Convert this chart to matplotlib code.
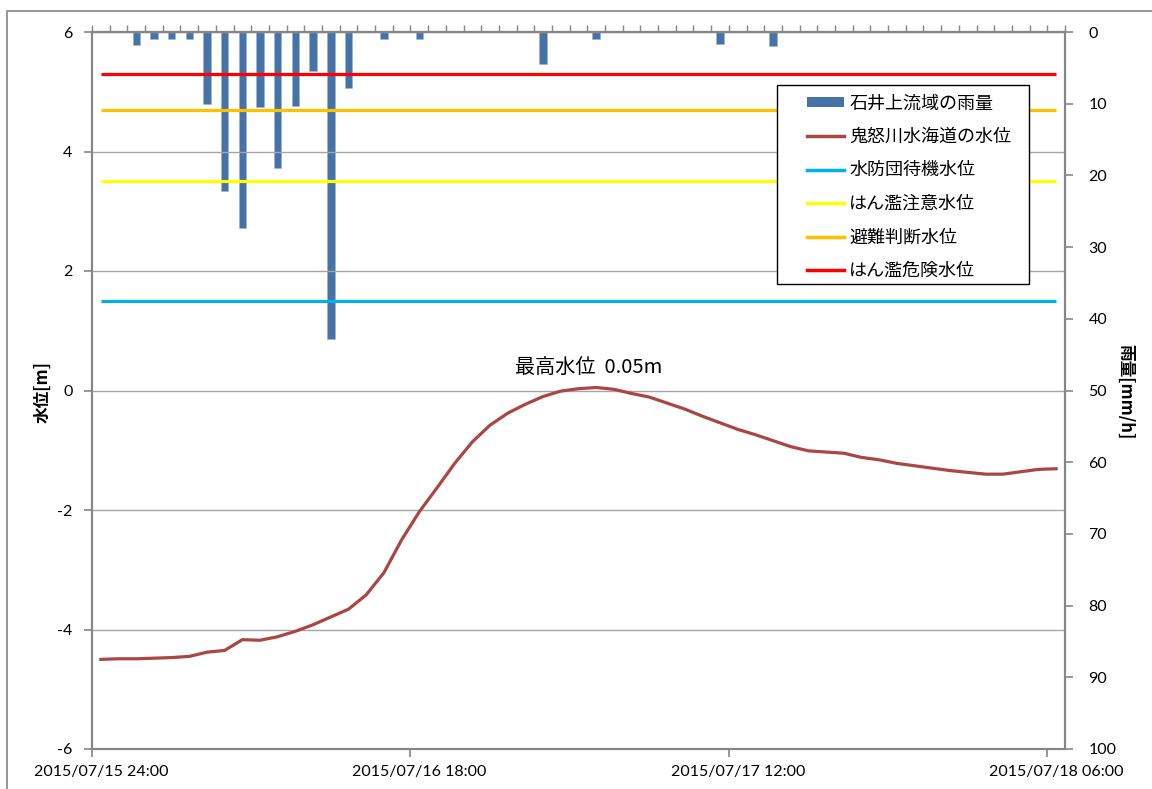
import numpy as np
import matplotlib.pyplot as plt
from matplotlib.patches import Patch, Rectangle
from matplotlib.lines import Line2D

plt.rcParams['font.family'] = ['Noto Sans CJK JP', 'DejaVu Sans']
plt.rcParams['axes.unicode_minus'] = False

# hourly data, 2015/07/15 24:00 .. 2015/07/18 06:00
tick_hours = [0, 18, 36, 54]
tick_labels = ["2015/07/15 24:00", "2015/07/16 18:00", "2015/07/17 12:00", "2015/07/18 06:00"]

level = [-4.50, -4.49, -4.49, -4.48, -4.47, -4.45, -4.38, -4.35, -4.17, -4.18,
         -4.12, -4.03, -3.92, -3.79, -3.66, -3.42, -3.05, -2.50, -2.03, -1.63,
         -1.22, -0.86, -0.58, -0.38, -0.23, -0.10, -0.01, 0.03, 0.05, 0.02,
         -0.05, -0.11, -0.21, -0.31, -0.43, -0.54, -0.65, -0.74, -0.84, -0.94,
         -1.01, -1.03, -1.05, -1.12, -1.16, -1.22, -1.26, -1.30, -1.34, -1.37,
         -1.40, -1.40, -1.36, -1.32, -1.31]

rain = [0, 0, 1.8, 1, 1, 1, 10, 22.2, 27.4, 10.5,
        19, 10.3, 5.5, 42.8, 7.8, 0, 1, 0, 1, 0,
        0, 0, 0, 0, 0, 4.5, 0, 0, 1, 0,
        0, 0, 0, 0, 0, 1.7, 0, 0, 2, 0,
        0, 0, 0, 0, 0, 0, 0, 0, 0, 0,
        0, 0, 0, 0, 0]

thresholds = [("水防団待機水位", 1.5, "#00b0f0"),
              ("はん濫注意水位", 3.5, "#ffff00"),
              ("避難判断水位", 4.7, "#ffc000"),
              ("はん濫危険水位", 5.3, "#ff0000")]

peak = max(level)

hours = np.arange(len(level)) + 0.5
grey = "#868686"
num_font = ['Lato', 'Noto Sans CJK JP']

fig = plt.figure(figsize=(11.52, 7.89), dpi=100)
ax = fig.add_axes([92 / 1152, 1 - 749 / 789, (1065 - 92) / 1152, (749 - 32) / 789])
ax2 = ax.twinx()
ax.set_zorder(ax2.get_zorder() + 1)
ax.patch.set_visible(False)

# rain bars on right axis (inverted)
ax2.bar(hours, rain, width=0.42, color="#4572A7", edgecolor="#9db3d3", linewidth=0.4)
ax2.set_ylim(100, 0)
ax2.set_yticks(np.arange(0, 101, 10))

# level + thresholds on left axis
for name, val, col in thresholds:
    ax.plot(hours, np.full(len(hours), val), color=col, lw=2.3, solid_capstyle='butt')
ax.plot(hours, level, color="#AA4643", lw=2.3, solid_joinstyle='round')

ax.set_xlim(0, 55)
ax.set_ylim(-6, 6)
ax.set_yticks(np.arange(-6, 7, 2))
ax.grid(axis='y', color="#a6a6a6", lw=1.0)
ax.set_axisbelow(True)

ax.set_xticks(tick_hours)
ax.set_xticklabels([])
ax.set_xticks([h + 0.5 for h in tick_hours], minor=True)
ax.set_xticklabels(tick_labels, minor=True, family=num_font, fontsize=11.5)
ax.tick_params(axis='x', which='major', length=6, width=1.2, color=grey, direction='out')
ax.tick_params(axis='x', which='minor', length=0, pad=11.5)
ax.tick_params(axis='y', length=6, width=1.2, color=grey, pad=8, labelsize=11.5)
for lab in ax.get_yticklabels():
    lab.set_family(num_font)
ax2.tick_params(axis='y', length=6, width=1.2, color=grey, pad=11, labelsize=11.5)
for lab in ax2.get_yticklabels():
    lab.set_family(num_font)

for a in (ax, ax2):
    for sp in a.spines.values():
        sp.set_color(grey)
        sp.set_linewidth(1.5)

# category ticks along the top
top = ax.secondary_xaxis('top')
top.set_xticks(np.arange(0, 56))
top.set_xticklabels([])
top.tick_params(length=5, width=1.0, color=grey, direction='out')
top.spines['top'].set_color(grey)
top.spines['top'].set_linewidth(1.5)

ax.text(28.1, 0.39, f"最高水位  {peak:.2f}m", ha='center', va='center', fontsize=14.5)

fig.text(0.0365, 0.503, "水位[m]", rotation=90, ha='center', va='center',
         fontsize=12, fontweight='bold')
fig.text(0.977, 0.503, "雨量[mm/h]", rotation=-90, ha='center', va='center',
         fontsize=12, fontweight='bold')

# legend with a hand-placed frame
ax.add_patch(Rectangle((0.7043, 0.6481), 0.259, 0.2779, transform=ax.transAxes,
                       facecolor='white', edgecolor='black', lw=1.0, zorder=9))
handles = [Patch(facecolor="#4572A7"),
           Line2D([], [], color="#AA4643", lw=2.5)]
labels = ["石井上流域の雨量", "鬼怒川水海道の水位"]
for name, val, col in thresholds:
    handles.append(Line2D([], [], color=col, lw=2.5))
    labels.append(name)
leg = ax.legend(handles, labels, loc='upper left', bbox_to_anchor=(0.7348, 0.913),
                frameon=False, fontsize=13, borderpad=0, borderaxespad=0,
                handlelength=2.05, handleheight=0.55, handletextpad=0.3, labelspacing=0.86)
leg.set_zorder(10)

fig.add_artist(Rectangle((7 / 1152, -0.1), 1.2, 1.1 - 11 / 789, transform=fig.transFigure,
                         fill=False, edgecolor=grey, lw=1.2))

fig.savefig("out.png", dpi=100)
